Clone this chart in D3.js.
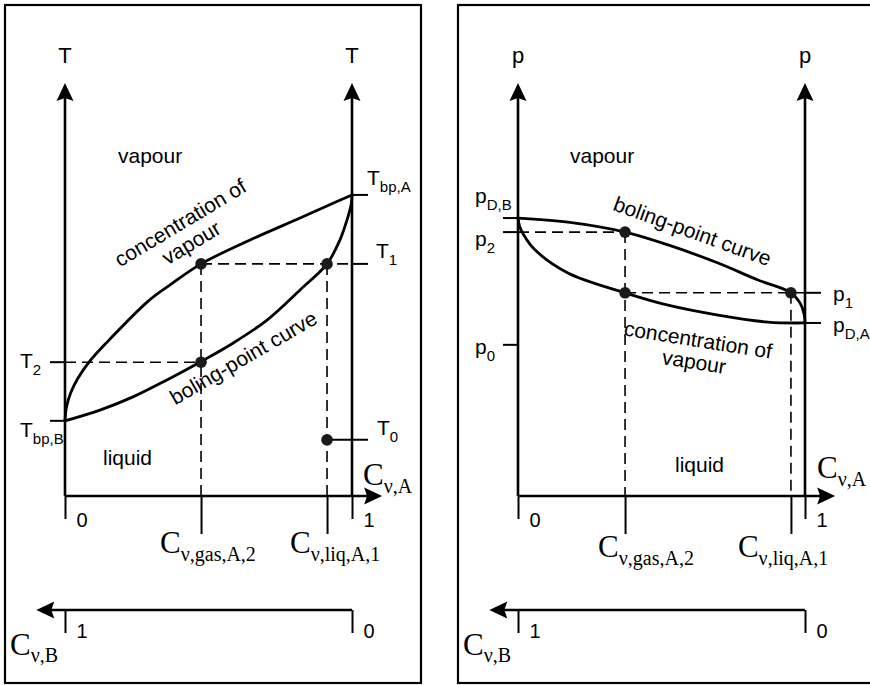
<!DOCTYPE html>
<html><head><meta charset="utf-8">
<script src="https://cdn.jsdelivr.net/npm/d3@7"></script>
<style>
body{margin:0;background:#fff}
svg text{font-family:"Liberation Sans",Arial,Helvetica,sans-serif;fill:#000}
.serif{font-family:"Liberation Serif","Times New Roman",serif !important}
</style>
</head><body>
<svg id="chart" width="870" height="685"></svg>
<script>
// ---------------- DATA ----------------
const xTickValues = [0, 1];
const xTickLabels = ["0", "1"];
const bTickValues = [0, 1];          // C_v,B axis (reversed)
const bTickLabels = ["0", "1"];

// Left panel: temperature diagram (normalised T, normalised C_v,A)
const leftDewCurve = [[0,0.182],[0.005,0.215],[0.02,0.25],[0.045,0.285],[0.087,0.327],[0.15,0.375],[0.29,0.472],[0.37,0.513],[0.474,0.562],[0.645,0.620],[0.819,0.673],[0.934,0.709],[1,0.729]];
const leftBoilCurve = [[0,0.182],[0.122,0.208],[0.237,0.240],[0.355,0.281],[0.470,0.324],[0.585,0.370],[0.704,0.426],[0.819,0.499],[0.913,0.562],[0.958,0.620],[0.986,0.676],[0.997,0.705],[1,0.729]];
const leftTicks = [
  {name:"T", sub:"bp,A", value:0.729, side:"right"},
  {name:"T", sub:"1",    value:0.562, side:"right"},
  {name:"T", sub:"0",    value:0.136, side:"right"},
  {name:"T", sub:"2",    value:0.324, side:"left"},
  {name:"T", sub:"bp,B", value:0.182, side:"left"}
];
const leftPoints = [[0.474,0.562],[0.913,0.562],[0.474,0.324],[0.913,0.136]];
const leftCompositions = [{sub:"ν,gas,A,2", value:0.474},{sub:"ν,liq,A,1", value:0.913}];

// Right panel: pressure diagram
const rightBoilCurve = [[0,0.673],[0.174,0.663],[0.373,0.639],[0.523,0.608],[0.697,0.564],[0.836,0.523],[0.951,0.492],[0.983,0.467],[0.997,0.440],[1,0.419]];
const rightDewCurve = [[0,0.673],[0.006,0.652],[0.02,0.632],[0.059,0.596],[0.174,0.540],[0.373,0.492],[0.523,0.462],[0.697,0.438],[0.871,0.421],[1,0.419]];
const rightTicks = [
  {name:"p", sub:"D,B", value:0.673, side:"left"},
  {name:"p", sub:"2",   value:0.639, side:"left"},
  {name:"p", sub:"0",   value:0.366, side:"left"},
  {name:"p", sub:"1",   value:0.492, side:"right"},
  {name:"p", sub:"D,A", value:0.419, side:"right"}
];
const rightPoints = [[0.373,0.639],[0.373,0.492],[0.951,0.492]];
const rightCompositions = [{sub:"ν,gas,A,2", value:0.373},{sub:"ν,liq,A,1", value:0.951}];

// ---------------- LAYOUT ----------------
const svg = d3.select("#chart");
const Y0 = 496, Y1 = 83;

function arrow(g, x, y, dir){
  const L = 18, W = 8.5, N = 3;
  let p;
  if (dir === "up") p = [[x,y],[x+W,y+L],[x,y+L-N],[x-W,y+L]];
  else if (dir === "right") p = [[x,y],[x-L,y+W],[x-L+N,y],[x-L,y-W]];
  else p = [[x,y],[x+L,y-W],[x+L-N,y],[x+L,y+W]];
  g.append("path").attr("d", d3.line()(p) + "Z").attr("fill","#000");
}

function subLabel(g, x, y, main, sub, opts){
  const t = g.append("text").attr("x", x).attr("y", y).attr("font-size", opts.size || 21);
  if (opts.serif) t.attr("class","serif");
  t.append("tspan").text(main);
  t.append("tspan").attr("font-size", opts.subSize || 15).attr("dx", opts.dx || 0).attr("dy", opts.dy || 7).text(sub);
  return t;
}

function panel(cfg){
  const g = svg.append("g");
  const x = d3.scaleLinear().domain([0,1]).range([cfg.x0, cfg.x1]);
  const y = d3.scaleLinear().domain([0,1]).range([Y0, Y1]);
  const xb = d3.scaleLinear().domain([0,1]).range([cfg.x1, cfg.x0]);

  // frame
  g.append("rect").attr("x", cfg.box[0]).attr("y", 5).attr("width", cfg.box[1]).attr("height", 678)
    .attr("fill","none").attr("stroke","#000").attr("stroke-width",2.2);

  // dashed construction lines
  const dash = g.append("g").attr("stroke","#000").attr("stroke-width",1.6).attr("stroke-dasharray","11,6").attr("fill","none");
  cfg.dashes.forEach(d => {
    dash.append("line").attr("x1", x(d[0])).attr("y1", y(d[1])).attr("x2", x(d[2])).attr("y2", y(d[3]));
  });

  // vertical axes
  [0,1].forEach(v => {
    g.append("line").attr("x1", x(v)).attr("x2", x(v)).attr("y1", Y0).attr("y2", Y1+14)
      .attr("stroke","#000").attr("stroke-width",2.6);
    arrow(g, x(v), Y1, "up");
    g.append("text").attr("x", x(v)).attr("y", 63).attr("text-anchor","middle").attr("font-size",22).text(cfg.yName);
  });

  // x axis with ticks 0 / 1
  const xa = g.append("g").attr("transform", `translate(0,${Y0})`)
    .call(d3.axisBottom(x).tickValues(xTickValues).tickSize(23).tickFormat((d,i)=>xTickLabels[i]));
  xa.select(".domain").remove();
  xa.selectAll(".tick line").attr("stroke","#000").attr("stroke-width",2);
  xa.selectAll(".tick text").attr("x",11).attr("y",31).attr("dy",0).attr("text-anchor","start")
    .attr("font-size",20).attr("font-family","Liberation Sans, Arial, sans-serif").attr("fill","#000");
  g.append("line").attr("x1", x(0)).attr("x2", x(1.105)-14).attr("y1", Y0).attr("y2", Y0)
    .attr("stroke","#000").attr("stroke-width",2.6);
  arrow(g, x(1.105), Y0, "right");

  // composition ticks below the x axis
  const ca = g.append("g").attr("transform", `translate(0,${Y0})`)
    .call(d3.axisBottom(x).tickValues(cfg.comps.map(c=>c.value)).tickSize(38).tickFormat(""));
  ca.select(".domain").remove();
  ca.selectAll(".tick line").attr("stroke","#000").attr("stroke-width",2);
  cfg.comps.forEach((c,i) => {
    subLabel(g, x(c.value) + cfg.compDx[i], cfg.compY, "C", c.sub, {serif:true, size:31, subSize:20, dy:8});
  });
  subLabel(g, cfg.cA[0], cfg.cA[1], "C", "ν,A", {serif:true, size:31, subSize:20, dy:8});

  // y tick labels
  cfg.ticks.forEach(t => {
    const yy = y(t.value);
    const off = cfg.tickLayout[t.name + t.sub];
    if (t.side === "left") {
      g.append("line").attr("x1", x(0)-15).attr("x2", x(0)).attr("y1", yy).attr("y2", yy).attr("stroke","#000").attr("stroke-width",2);
    } else {
      const start = off.from !== undefined ? x(off.from) : x(1);
      g.append("line").attr("x1", start).attr("x2", x(1)+16).attr("y1", yy).attr("y2", yy).attr("stroke","#000").attr("stroke-width",2);
    }
    subLabel(g, off.x, yy + off.dy, t.name, t.sub, {size:21, subSize:15, dx: off.sdx || 0, dy: 7});
  });

  // curves
  const line = d3.line().x(d=>x(d[0])).y(d=>y(d[1])).curve(d3.curveCatmullRom.alpha(0.5));
  cfg.curves.forEach(c => g.append("path").attr("d", line(c)).attr("fill","none").attr("stroke","#000").attr("stroke-width",2.8));

  // points
  g.selectAll("circle.pt").data(cfg.points).join("circle").attr("class","pt")
    .attr("cx", d=>x(d[0])).attr("cy", d=>y(d[1])).attr("r",5.8).attr("fill","#1a1a1a");

  // C_v,B axis (reversed)
  const yb = 610;
  g.append("line").attr("x1", xb(0)).attr("x2", xb(1.1)+14).attr("y1", yb).attr("y2", yb).attr("stroke","#000").attr("stroke-width",2.6);
  arrow(g, xb(1.1), yb, "left");
  const ba = g.append("g").attr("transform", `translate(0,${yb})`)
    .call(d3.axisBottom(xb).tickValues(bTickValues).tickSize(23).tickFormat((d,i)=>bTickLabels[i]));
  ba.select(".domain").remove();
  ba.selectAll(".tick line").attr("stroke","#000").attr("stroke-width",2);
  ba.selectAll(".tick text").attr("x",11).attr("y",28).attr("dy",0).attr("text-anchor","start")
    .attr("font-size",20).attr("font-family","Liberation Sans, Arial, sans-serif").attr("fill","#000");
  subLabel(g, cfg.cB, 655, "C", "ν,B", {serif:true, size:31, subSize:20, dy:7});

  // region labels
  cfg.texts.forEach(t => {
    g.append("text").attr("font-size",21).attr("text-anchor", t.rot===undefined ? "start":"middle")
      .attr("transform", `translate(${t.p[0]},${t.p[1]})` + (t.rot!==undefined ? ` rotate(${t.rot})` : "")).text(t.s);
  });
}

panel({
  x0:65, x1:352, box:[5,416], yName:"T",
  dashes:[[0.474,0.562,1,0.562],[0,0.324,0.474,0.324],[0.474,0.562,0.474,0],[0.913,0.562,0.913,0]],
  comps:leftCompositions, compDx:[-41,-37], compY:553, cA:[363,485], cB:10,
  ticks:leftTicks,
  tickLayout:{"Tbp,A":{x:367,dy:-10},"T1":{x:376,dy:-6},"T0":{x:377,dy:-5,from:0.913},"T2":{x:20,dy:6},"Tbp,B":{x:20,dy:16}},
  curves:[leftDewCurve,leftBoilCurve], points:leftPoints,
  texts:[{s:"vapour",p:[118,163]},{s:"liquid",p:[103,465]},
         {s:"concentration of",p:[184,229],rot:-31},{s:"vapour",p:[195,249],rot:-31},
         {s:"boling-point curve",p:[247,364],rot:-30}]
});

panel({
  x0:518, x1:805, box:[458,430], yName:"p",
  dashes:[[0,0.639,0.373,0.639],[0.373,0.492,1,0.492],[0.373,0.639,0.373,0],[0.951,0.492,0.951,0]],
  comps:rightCompositions, compDx:[-27,-53], compY:557, cA:[817,478], cB:463,
  ticks:rightTicks,
  tickLayout:{"pD,B":{x:475,dy:-15},"p2":{x:475,dy:14},"p0":{x:475,dy:9},"p1":{x:833,dy:8},"pD,A":{x:833,dy:9}},
  curves:[rightBoilCurve,rightDewCurve], points:rightPoints,
  texts:[{s:"vapour",p:[570,163]},{s:"liquid",p:[675,472]},
         {s:"boling-point curve",p:[690,238],rot:20},
         {s:"concentration of",p:[697,347],rot:9},{s:"vapour",p:[693,369],rot:9}]
});
</script>
</body></html>
